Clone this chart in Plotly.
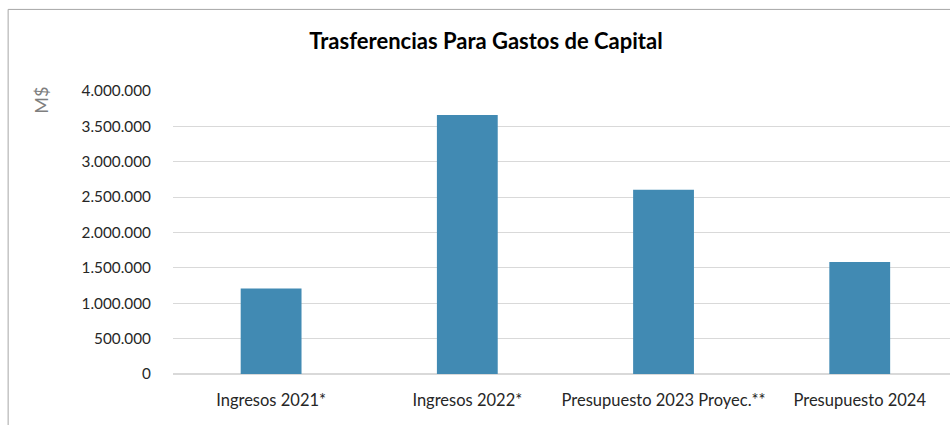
import plotly.graph_objects as go

categories = ["Ingresos 2021*", "Ingresos 2022*", "Presupuesto 2023 Proyec.**", "Presupuesto 2024"]
values = [1210000, 3660000, 2605000, 1582000]
tick_vals = [0, 500000, 1000000, 1500000, 2000000, 2500000, 3000000, 3500000, 4000000]
tick_text = ["0", "500.000", "1.000.000", "1.500.000", "2.000.000", "2.500.000", "3.000.000", "3.500.000", "4.000.000"]

W, H = 950, 425
PL, PR, PT, PB = 173.3, 950, 91, 373.7   # plot area in reference pixels
L, R, T, B = PL, (W - PR), PT, (H - PB)
FONT = "Lato, Carlito, Calibri, sans-serif"

def px_x(p):
    return (p - PL) / (PR - PL)

def px_y(p):
    return (PB - p) / (PB - PT)

fig = go.Figure(go.Bar(
    x=categories, y=values, width=0.31,
    marker=dict(color="#418ab3", line=dict(width=0)),
))

fig.update_layout(
    width=W, height=H,
    margin=dict(l=L, r=R, t=T, b=B, autoexpand=False),
    paper_bgcolor="white", plot_bgcolor="white",
    showlegend=False,
    font=dict(family=FONT, size=15, color="#404040"),
    title=dict(text="<b>Trasferencias Para Gastos de Capital</b>", x=486 / W, xanchor="center",
               y=1 - 41 / H, yanchor="middle", font=dict(size=22, color="#000000", family=FONT)),
    xaxis=dict(range=[-0.5, 3.46], showgrid=False, showline=False, zeroline=False,
               ticks="outside", ticklen=11, tickcolor="rgba(0,0,0,0)",
               tickfont=dict(size=16.5, color="#262626"), fixedrange=True),
    yaxis=dict(range=[0, 4000000], tickvals=tick_vals, ticktext=tick_text,
               showgrid=True, gridcolor="#d9d9d9", gridwidth=1,
               zeroline=True, zerolinecolor="#d9d9d9", zerolinewidth=1.5,
               showline=False, ticks="outside", ticklen=18, tickcolor="rgba(0,0,0,0)",
               tickfont=dict(size=15.3, color="#262626"), fixedrange=True),
    annotations=[dict(text="M$", textangle=-90, x=px_x(41), y=px_y(100), xref="paper", yref="paper",
                      showarrow=False, font=dict(size=18, color="#7f7f7f"),
                      xanchor="center", yanchor="middle")],
    shapes=[
        dict(type="line", xref="paper", yref="paper", x0=px_x(8.5), x1=px_x(8.5), y0=px_y(9.5), y1=px_y(430),
             line=dict(color="#a6a6a6", width=1)),
        dict(type="line", xref="paper", yref="paper", x0=px_x(8.5), x1=px_x(955), y0=px_y(9.5), y1=px_y(9.5),
             line=dict(color="#a6a6a6", width=1)),
    ],
)

fig.write_html("out.html", config={"displayModeBar": False},
               post_script="document.body.style.margin='0px';document.body.style.overflow='hidden';")
